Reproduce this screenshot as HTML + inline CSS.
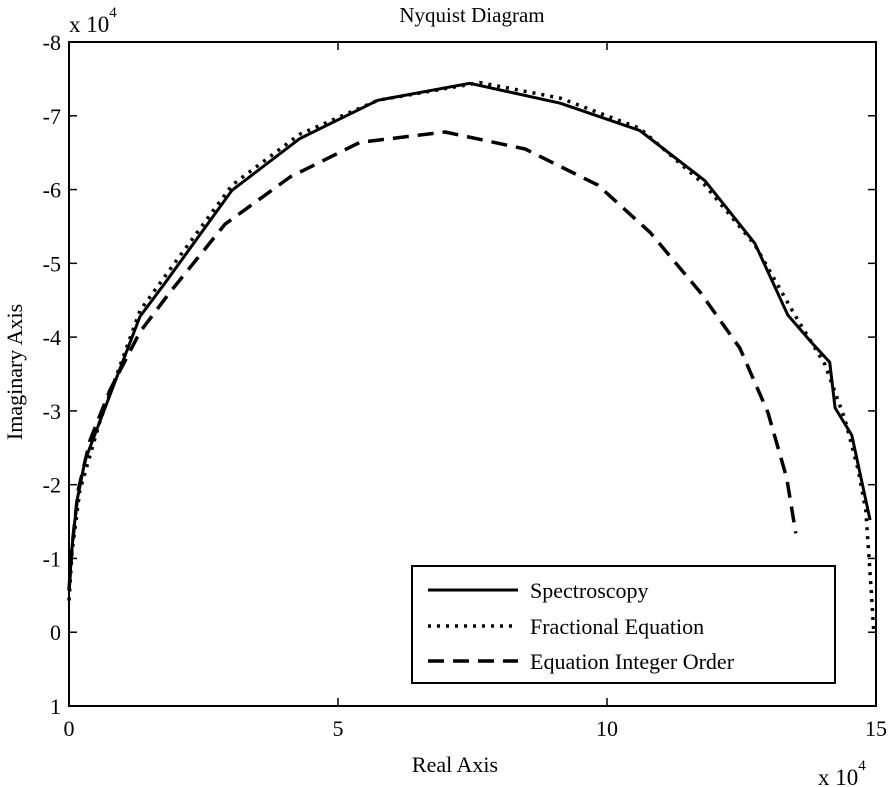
<!DOCTYPE html>
<html><head><meta charset="utf-8"><style>
body{margin:0;background:#fff}
svg{display:block;font-family:"Liberation Serif",serif}
</style></head><body>
<svg id="chart" width="888" height="787">
<g id="axes"></g><g id="series"></g>
</svg>
<script>
const xTicks=[0,5,10,15];
const yTicks=[-8,-7,-6,-5,-4,-3,-2,-1,0,1];
const solidX=[0,0.06,0.15,0.30,0.58,1.32,1.78,3.03,4.29,5.74,7.45,9.13,10.61,11.82,12.75,13.36,13.81,14.14,14.24,14.55,14.89];
const solidY=[-0.57,-1.18,-1.79,-2.33,-2.87,-4.28,-4.73,-5.99,-6.69,-7.21,-7.44,-7.17,-6.80,-6.12,-5.27,-4.30,-3.92,-3.66,-3.04,-2.67,-1.52];
const dotX=[0,0.06,0.20,0.58,1.32,2.06,3.03,4.29,5.74,7.64,9.13,10.61,11.82,12.75,13.49,14.05,14.42,14.67,14.81,14.91,14.96];
const dotY=[-0.43,-1.11,-1.92,-2.87,-4.36,-5.10,-6.06,-6.75,-7.21,-7.45,-7.24,-6.83,-6.06,-5.25,-4.30,-3.63,-2.89,-2.20,-1.65,-0.57,0];
const dashX=[0,0.06,0.17,0.39,0.76,1.32,1.88,2.90,4.11,5.41,6.99,8.48,9.83,10.80,11.73,12.47,12.99,13.34,13.51];
const dashY=[-0.57,-1.18,-1.92,-2.60,-3.28,-4.07,-4.61,-5.53,-6.17,-6.64,-6.78,-6.55,-6.06,-5.42,-4.61,-3.85,-2.98,-2.09,-1.34];
const legendLabels=["Spectroscopy","Fractional Equation","Equation Integer Order"];

const L=69,R=876,T=42,B=706;
const sx=v=>L+(v-0)/15*(R-L);
const sy=v=>T+(v+8)/9*(B-T);
const NS="http://www.w3.org/2000/svg";
function mk(tag,attrs,parent,text){const e=document.createElementNS(NS,tag);for(const k in attrs)e.setAttribute(k,attrs[k]);if(text!==undefined)e.textContent=text;parent.appendChild(e);return e;}
const ax=document.getElementById('axes'),se=document.getElementById('series'),svg=document.getElementById('chart');

let t=mk('text',{x:472,y:22,'text-anchor':'middle','font-size':21},ax,'Nyquist Diagram');


let f=mk('rect',{x:L,y:T,width:R-L,height:B-T,fill:'none',stroke:'#000','stroke-width':2},ax);


xTicks.forEach(v=>{
  mk('line',{x1:sx(v),x2:sx(v),y1:B,y2:B-8,stroke:'#000','stroke-width':1.5},ax);
  mk('line',{x1:sx(v),x2:sx(v),y1:T,y2:T+8,stroke:'#000','stroke-width':1.5},ax);
  const e=mk('text',{x:sx(v),y:B+30,'text-anchor':'middle','font-size':22},ax,String(v));
  
  
});
yTicks.forEach(v=>{
  mk('line',{x1:L,x2:L+8,y1:sy(v),y2:sy(v),stroke:'#000','stroke-width':1.5},ax);
  mk('line',{x1:R,x2:R-8,y1:sy(v),y2:sy(v),stroke:'#000','stroke-width':1.5},ax);
  const e=mk('text',{x:L-8,y:sy(v)+8,'text-anchor':'end','font-size':22},ax,String(v));
  
  
});
let e1=mk('text',{x:69,y:32,'font-size':23},ax,'x 10');mk('tspan',{dy:-15,'font-size':15},e1,'4');


let e2=mk('text',{x:818,y:785,'font-size':23},ax,'x 10');mk('tspan',{dy:-15,'font-size':15},e2,'4');


let xl=mk('text',{x:455,y:772,'text-anchor':'middle','font-size':22},ax,'Real Axis');


let yl=mk('text',{x:0,y:0,'text-anchor':'middle','font-size':22,transform:'translate(22,372) rotate(-90)'},ax,'Imaginary Axis');



const styles=[{dash:'none',w:3},{dash:'3,6',w:3.5},{dash:'16,9',w:3.5}];
const sets=[[solidX,solidY],[dotX,dotY],[dashX,dashY]];
const names=['spectroscopy-line','fractional-equation-line','integer-order-line'];
sets.forEach((s,i)=>{
  const d=s[0].map((x,j)=>(j?'L':'M')+sx(x).toFixed(1)+','+sy(s[1][j]).toFixed(1)).join('');
  const p=mk('path',{d:d,fill:'none',stroke:'#000','stroke-width':styles[i].w,'stroke-dasharray':styles[i].dash,'stroke-linejoin':'round'},se);
  
  
});
const lg=mk('g',{},svg);


mk('rect',{x:412,y:566,width:423,height:117,fill:'#fff',stroke:'#000','stroke-width':2},lg);
const ly=[590,626,661];
legendLabels.forEach((lab,i)=>{
  const g=mk('g',{},lg);
  
  
  mk('line',{x1:428,x2:518,y1:ly[i],y2:ly[i],stroke:'#000','stroke-width':styles[i].w,'stroke-dasharray':styles[i].dash},g);
  mk('text',{x:530,y:ly[i]+8,'font-size':22},g,lab);
});
</script>
</body></html>
